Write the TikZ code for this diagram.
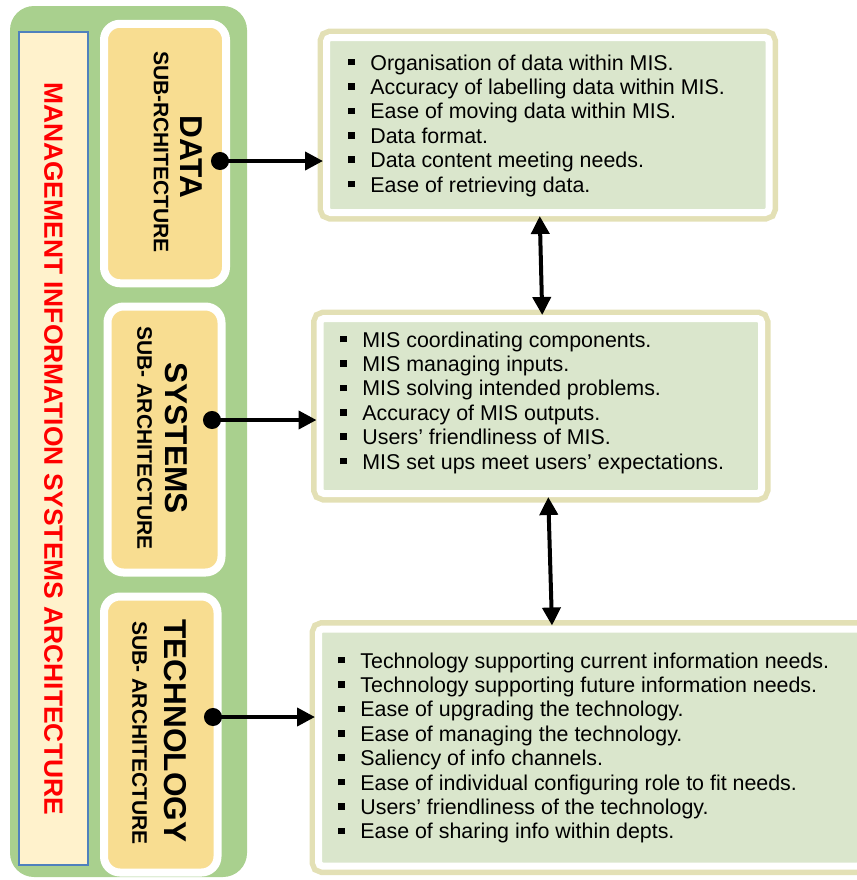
\documentclass[tikz,border=0pt]{standalone}
\usepackage{fontspec}
\setmainfont{Liberation Sans}
\usetikzlibrary{arrows.meta,shadows}

\definecolor{misgreen}{RGB}{169,208,142}
\definecolor{titlecream}{RGB}{255,242,204}
\definecolor{titleblue}{RGB}{79,129,189}
\definecolor{subyellow}{RGB}{248,221,145}
\definecolor{panelgreen}{RGB}{218,230,204}
\definecolor{glowolive}{RGB}{204,198,120}

\tikzset{
  subbox/.style={rectangle, rounded corners=8pt, fill=subyellow, draw=white, line width=4pt},
  head/.style={rotate=-90, inner sep=0pt, font=\bfseries\fontsize{15.8}{18}\selectfont},
  subhead/.style={rotate=-90, inner sep=0pt, font=\bfseries\fontsize{10.5}{12}\selectfont},
  panel/.style={rectangle, rounded corners=2pt, fill=panelgreen, draw=white, line width=3.5pt,
    preaction={draw=glowolive!55, line width=9pt}},
  item/.style={anchor=base west, inner sep=0pt, font=\fontsize{10.7}{12.2}\selectfont},
  link/.style={line width=2pt, {Circle[length=9pt]}-{Triangle[length=9pt,width=9pt]}},
  twoway/.style={line width=2pt, {Triangle[length=9pt,width=9pt]}-{Triangle[length=9pt,width=9pt]}}
}
\newcommand{\sqb}{\makebox[11pt][l]{\rule[2.3pt]{3.3pt}{3.3pt}}}

\begin{document}
\begin{tikzpicture}[x=0.5pt,y=-0.5pt]
  \useasboundingbox (0,0) rectangle (857,880);
  \clip (0,0) rectangle (857,880);

  % left column
  \draw (128.5,441.5) node (mis) [rectangle, rounded corners=12pt, fill=misgreen, minimum width=118.5pt, minimum height=435.5pt] {};
  \draw (53.5,448.5) node (title) [rectangle, fill=titlecream, draw=titleblue, line width=0.8pt, minimum width=416.5pt, minimum height=34.5pt, rotate=-90, text=red, font=\bfseries\fontsize{13.2}{15}\selectfont] {MANAGEMENT INFORMATION SYSTEMS ARCHITECTURE};

  \draw (165,153.5) node (data) [subbox, minimum width=61pt, minimum height=129.75pt] {};
  \draw (164.5,439.5) node (systems) [subbox, minimum width=57pt, minimum height=133pt] {};
  \draw (160.75,734.5) node (technology) [subbox, minimum width=56.75pt, minimum height=138pt] {};

  \draw (191,157) node (datahead) [head] {DATA};
  \draw (161,152) node (datasub) [subhead] {SUB-RCHITECTURE};
  \draw (176,438) node (syshead) [head] {SYSTEMS};
  \draw (144.5,438) node (syssub) [subhead] {SUB- ARCHITECTURE};
  \draw (175,731) node (techhead) [head] {TECHNOLOGY};
  \draw (139.5,733) node (techsub) [subhead] {SUB- ARCHITECTURE};

  % right column
  \draw (547.75,125) node (datalist) [panel, minimum width=221.25pt, minimum height=87.5pt] {};
  \draw (540.75,406) node (syslist) [panel, minimum width=220.75pt, minimum height=87.5pt] {};
  \draw (590,747.5) node (techlist) [panel, minimum width=271.5pt, minimum height=118.5pt] {};

  \foreach \txt [count=\i from 0] in {Organisation of data within MIS., Accuracy of labelling data within MIS., Ease of moving data within MIS., Data format., Data content meeting needs., Ease of retrieving data.}
    \draw (348,70+24.4*\i) node (dataitem\i) [item] {\sqb\txt};

  \foreach \txt [count=\i from 0] in {MIS coordinating components., MIS managing inputs., MIS solving intended problems., Accuracy of MIS outputs., Users’ friendliness of MIS., MIS set ups meet users’ expectations.}
    \draw (340,347+24.4*\i) node (sysitem\i) [item] {\sqb\txt};

  \foreach \txt [count=\i from 0] in {Technology supporting current information needs., Technology supporting future information needs., Ease of upgrading the technology., Ease of managing the technology., Saliency of info channels., Ease of individual configuring role to fit needs., Users’ friendliness of the technology., Ease of sharing info within depts.}
    \draw (338,668+24.4*\i) node (techitem\i) [item] {\sqb\txt};

  % connectors
  \coordinate (datadot) at (211,161);
  \coordinate (sysdot) at (203,420);
  \coordinate (techdot) at (204,717);
  \draw[link] (datadot) -- (datalist.west |- datadot);
  \draw[link] (sysdot) -- (syslist.west |- sysdot);
  \draw[link] (techdot) -- (techlist.west |- techdot);
  \draw[twoway] ([xshift=-4pt]datalist.south) -- ([xshift=0.75pt]syslist.north);
  \draw[twoway] ([xshift=3.75pt]syslist.south) -- ([xshift=-19pt]techlist.north);
\end{tikzpicture}
\end{document}
